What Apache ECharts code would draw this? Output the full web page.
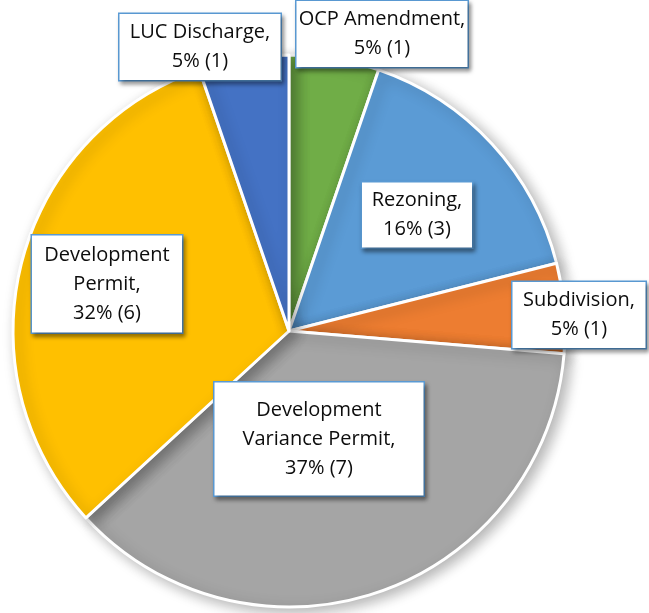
<!DOCTYPE html>
<html>
<head>
<meta charset="utf-8">
<script src="https://cdn.jsdelivr.net/npm/echarts@6/dist/echarts.min.js"></script>
<style>
html, body { margin: 0; padding: 0; background: #fff; }
#chart { width: 649px; height: 613px; }
</style>
</head>
<body>
<div id="chart"></div>
<script type="text/javascript">
// data, clockwise from 12 o'clock
var categories = ['OCP Amendment', 'Rezoning', 'Subdivision', 'Development Variance Permit', 'Development Permit', 'LUC Discharge'];
var counts = [1, 3, 1, 7, 6, 1];
var percents = ['5%', '16%', '5%', '37%', '32%', '5%'];
// how each label text is broken into lines
var labelLines = [
    ['OCP Amendment,', '5% (1)'],
    ['Rezoning,', '16% (3)'],
    ['Subdivision,', '5% (1)'],
    ['Development', 'Variance Permit,', '37% (7)'],
    ['Development', 'Permit,', '32% (6)'],
    ['LUC Discharge,', '5% (1)']
];
var colors = ['#70ad47', '#5b9bd5', '#ed7d31', '#a5a5a5', '#ffc000', '#4472c4'];

// label boxes: center x, center y, width, height
var boxes = [
    [382, 34, 171, 66],
    [417, 215, 110, 65],
    [579, 315, 133, 66],
    [319, 439, 209, 113],
    [107, 284, 150, 97],
    [200, 47, 161, 66]
];
var lineH = 29;

var seriesData = [];
for (var i = 0; i < categories.length; i++) {
    var b = boxes[i];
    var pv = (b[3] - labelLines[i].length * lineH) / 2;
    seriesData.push({
        name: categories[i],
        value: counts[i],
        itemStyle: { color: colors[i] },
        label: {
            width: b[2],
            padding: [pv, 0, pv, 0]
        }
    });
}

var option = {
    animation: false,
    series: [{
        type: 'pie',
        center: [289, 331],
        radius: 276,
        startAngle: 90,
        clockwise: true,
        avoidLabelOverlap: false,
        emphasis: { disabled: true },
        itemStyle: {
            borderColor: '#fff',
            borderWidth: 3,
            shadowBlur: 14,
            shadowOffsetX: 5,
            shadowOffsetY: 4,
            shadowColor: 'rgba(0,0,0,0.3)'
        },
        label: {
            show: true,
            position: 'outside',
            formatter: function(p) {
                return labelLines[p.dataIndex].join('\n');
            },
            fontFamily: 'Open Sans',
            fontSize: 20,
            lineHeight: lineH,
            overflow: 'none',
            color: '#0d0d0d',
            align: 'center',
            backgroundColor: '#fff',
            borderColor: '#5b9bd5',
            borderWidth: 1.5,
            shadowBlur: 4,
            shadowOffsetX: 2,
            shadowOffsetY: 3,
            shadowColor: 'rgba(0,0,0,0.35)'
        },
        labelLine: { show: false },
        labelLayout: function(params) {
            var b = boxes[params.dataIndex];
            return { x: b[0], y: b[1], align: 'center', verticalAlign: 'middle' };
        },
        data: seriesData
    }]
};

var chart = echarts.init(document.getElementById('chart'));
chart.setOption(option);
</script>
</body>
</html>
